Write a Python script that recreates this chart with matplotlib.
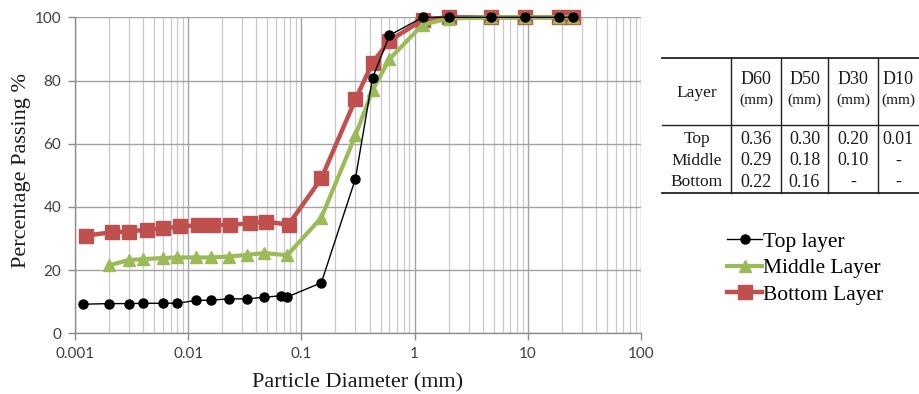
import numpy as np
import matplotlib
matplotlib.use("Agg")
import matplotlib.pyplot as plt
from matplotlib.ticker import LogLocator, NullFormatter, FixedLocator, FixedFormatter
from matplotlib.lines import Line2D

# --- data ---
top_d = [0.00117, 0.002, 0.003, 0.004, 0.006, 0.008, 0.0117, 0.016, 0.023, 0.033,
         0.047, 0.066, 0.075, 0.15, 0.3, 0.425, 0.6, 1.18, 2.0, 4.75, 9.5, 19.0, 25.0]
top_p = [9.2, 9.4, 9.4, 9.5, 9.5, 9.5, 10.4, 10.5, 10.9, 10.9,
         11.4, 11.9, 11.5, 16.0, 48.9, 80.8, 94.3, 100, 100, 100, 100, 100, 100]

mid_d = [0.002, 0.003, 0.004, 0.006, 0.008, 0.0117, 0.016, 0.023, 0.033, 0.047,
         0.075, 0.15, 0.3, 0.425, 0.6, 1.18, 2.0, 4.75, 9.5, 19.0, 25.0]
mid_p = [21.5, 23.2, 23.5, 23.8, 24.0, 24.0, 24.0, 24.3, 24.8, 25.4,
         24.7, 36.6, 62.6, 76.9, 86.8, 97.7, 99.6, 100, 100, 100, 100]

bot_d = [0.00124, 0.00214, 0.003, 0.0043, 0.006, 0.0085, 0.0122, 0.0165, 0.0235, 0.035,
         0.049, 0.077, 0.15, 0.3, 0.425, 0.6, 1.18, 2.0, 4.75, 9.5, 19.0, 25.0]
bot_p = [30.9, 32.0, 32.2, 32.8, 33.2, 33.8, 34.2, 34.3, 34.3, 34.8,
         35.3, 34.4, 49.0, 74.0, 85.6, 92.6, 99.2, 100, 100, 100, 100, 100]

x_ticks = [0.001, 0.01, 0.1, 1, 10, 100]
x_ticklabels = ["0.001", "0.01", "0.1", "1", "10", "100"]
y_ticks = [0, 20, 40, 60, 80, 100]

# table contents
tbl_header = ["Layer", "D60\n(mm)", "D50\n(mm)", "D30\n(mm)", "D10\n(mm)"]
tbl_layers = ["Top", "Middle", "Bottom"]
tbl_d60 = ["0.36", "0.29", "0.22"]
tbl_d50 = ["0.30", "0.18", "0.16"]
tbl_d30 = ["0.20", "0.10", "-"]
tbl_d10 = ["0.01", "-", "-"]

SERIF = ["Liberation Serif", "DejaVu Serif"]
SANS = ["Lato", "DejaVu Sans"]

W, H = 919, 394
fig = plt.figure(figsize=(W / 100, H / 100), dpi=100)

# axes box in pixels: x 75..641, y 17..333
ax = fig.add_axes([75 / W, 1 - 333.3 / H, (641 - 75) / W, (333.3 - 17.3) / H])

ax.set_xscale("log")
ax.set_xlim(0.001, 100)
ax.set_ylim(0, 100)
ax.xaxis.set_major_locator(FixedLocator(x_ticks))
ax.xaxis.set_major_formatter(FixedFormatter(x_ticklabels))
ax.xaxis.set_minor_locator(LogLocator(base=10, subs=range(2, 10), numticks=20))
ax.xaxis.set_minor_formatter(NullFormatter())
ax.set_yticks(y_ticks)

ax.grid(which="major", color="#a3a3a3", linewidth=1.0, zorder=0)
ax.grid(which="minor", axis="x", color="#c9c9c9", linewidth=0.9, zorder=0)
ax.set_axisbelow(True)

for s in ["top", "right"]:
    ax.spines[s].set_visible(False)
for s in ["left", "bottom"]:
    ax.spines[s].set_color("#8c8c8c")
    ax.spines[s].set_linewidth(1.0)

ax.tick_params(which="major", direction="out", length=5, color="#8c8c8c", width=1.0,
               labelsize=11, labelcolor="#404040", pad=5)
ax.tick_params(which="minor", length=0)
for lab in ax.get_xticklabels() + ax.get_yticklabels():
    lab.set_family(SANS)

# series (bottom drawn first so black sits on top)
ax.plot(bot_d, bot_p, color="#C0504D", linewidth=3.2, marker="s", markersize=9.5,
        clip_on=False, zorder=3)
ax.plot(mid_d, mid_p, color="#9BBB59", linewidth=3.0, marker="^", markersize=9,
        clip_on=False, zorder=4)
ax.plot(top_d, top_p, color="black", linewidth=1.0, marker="o", markersize=6.5,
        clip_on=False, zorder=5)

ax.set_xlabel("Particle Diameter (mm)", family=SERIF, fontsize=16, color="#1a1a1a")
ax.xaxis.set_label_coords(0.5, -0.125)
ax.set_ylabel("Percentage Passing %", family=SERIF, fontsize=16, color="#1a1a1a")
ax.yaxis.set_label_coords(-0.078, 0.515)

# legend
handles = [
    Line2D([], [], color="black", linewidth=1.0, marker="o", markersize=6.5),
    Line2D([], [], color="#9BBB59", linewidth=3.0, marker="^", markersize=9),
    Line2D([], [], color="#C0504D", linewidth=3.2, marker="s", markersize=9.5),
]
fig.legend(handles, ["Top layer", "Middle Layer", "Bottom Layer"],
           loc="upper left", bbox_to_anchor=(716 / W, 1 - 221 / H),
           frameon=False, prop={"family": SERIF, "size": 15.5},
           handlelength=1.65, handletextpad=0.05, labelspacing=0.3, borderpad=0)

# table drawn with figure-level lines and text (pixel coordinates)
def fx(px):
    return px / W

def fy(py):
    return 1 - py / H

col_edges = [662, 731, 781, 828, 878, 925]
y_top, y_head, y_bot = 58.3, 125.0, 193.3
row_centers = [139.5, 161, 182.5]

line_kw = dict(color="#222222", transform=fig.transFigure)
fig.add_artist(Line2D([fx(662), fx(919)], [fy(y_top), fy(y_top)], linewidth=1.3, **line_kw))
fig.add_artist(Line2D([fx(662), fx(919)], [fy(y_head), fy(y_head)], linewidth=1.0, **line_kw))
fig.add_artist(Line2D([fx(662), fx(919)], [fy(y_bot), fy(y_bot)], linewidth=1.3, **line_kw))
for xe in col_edges[1:-1]:
    fig.add_artist(Line2D([fx(xe), fx(xe)], [fy(y_top), fy(y_bot)], linewidth=1.0, **line_kw))

centers = [(col_edges[i] + col_edges[i + 1]) / 2 for i in range(5)]
centers[-1] = 898
fig.text(fx(centers[0]), fy(93), tbl_header[0], ha="center", va="center",
         family=SERIF, fontsize=12.5, color="#1a1a1a")
for i in range(1, 5):
    name, unit = tbl_header[i].split("\n")
    fig.text(fx(centers[i]), fy(80), name, ha="center", va="center",
             family=SERIF, fontsize=13, color="#1a1a1a")
    fig.text(fx(centers[i]), fy(100), unit, ha="center", va="center",
             family=SERIF, fontsize=11, color="#1a1a1a")

cols = [tbl_layers, tbl_d60, tbl_d50, tbl_d30, tbl_d10]
for r in range(3):
    for c in range(5):
        fig.text(fx(centers[c]), fy(row_centers[r]), cols[c][r], ha="center", va="center",
                 family=SERIF, fontsize=13 if c else 12.5, color="#1a1a1a")

fig.savefig("out.png", dpi=100)
